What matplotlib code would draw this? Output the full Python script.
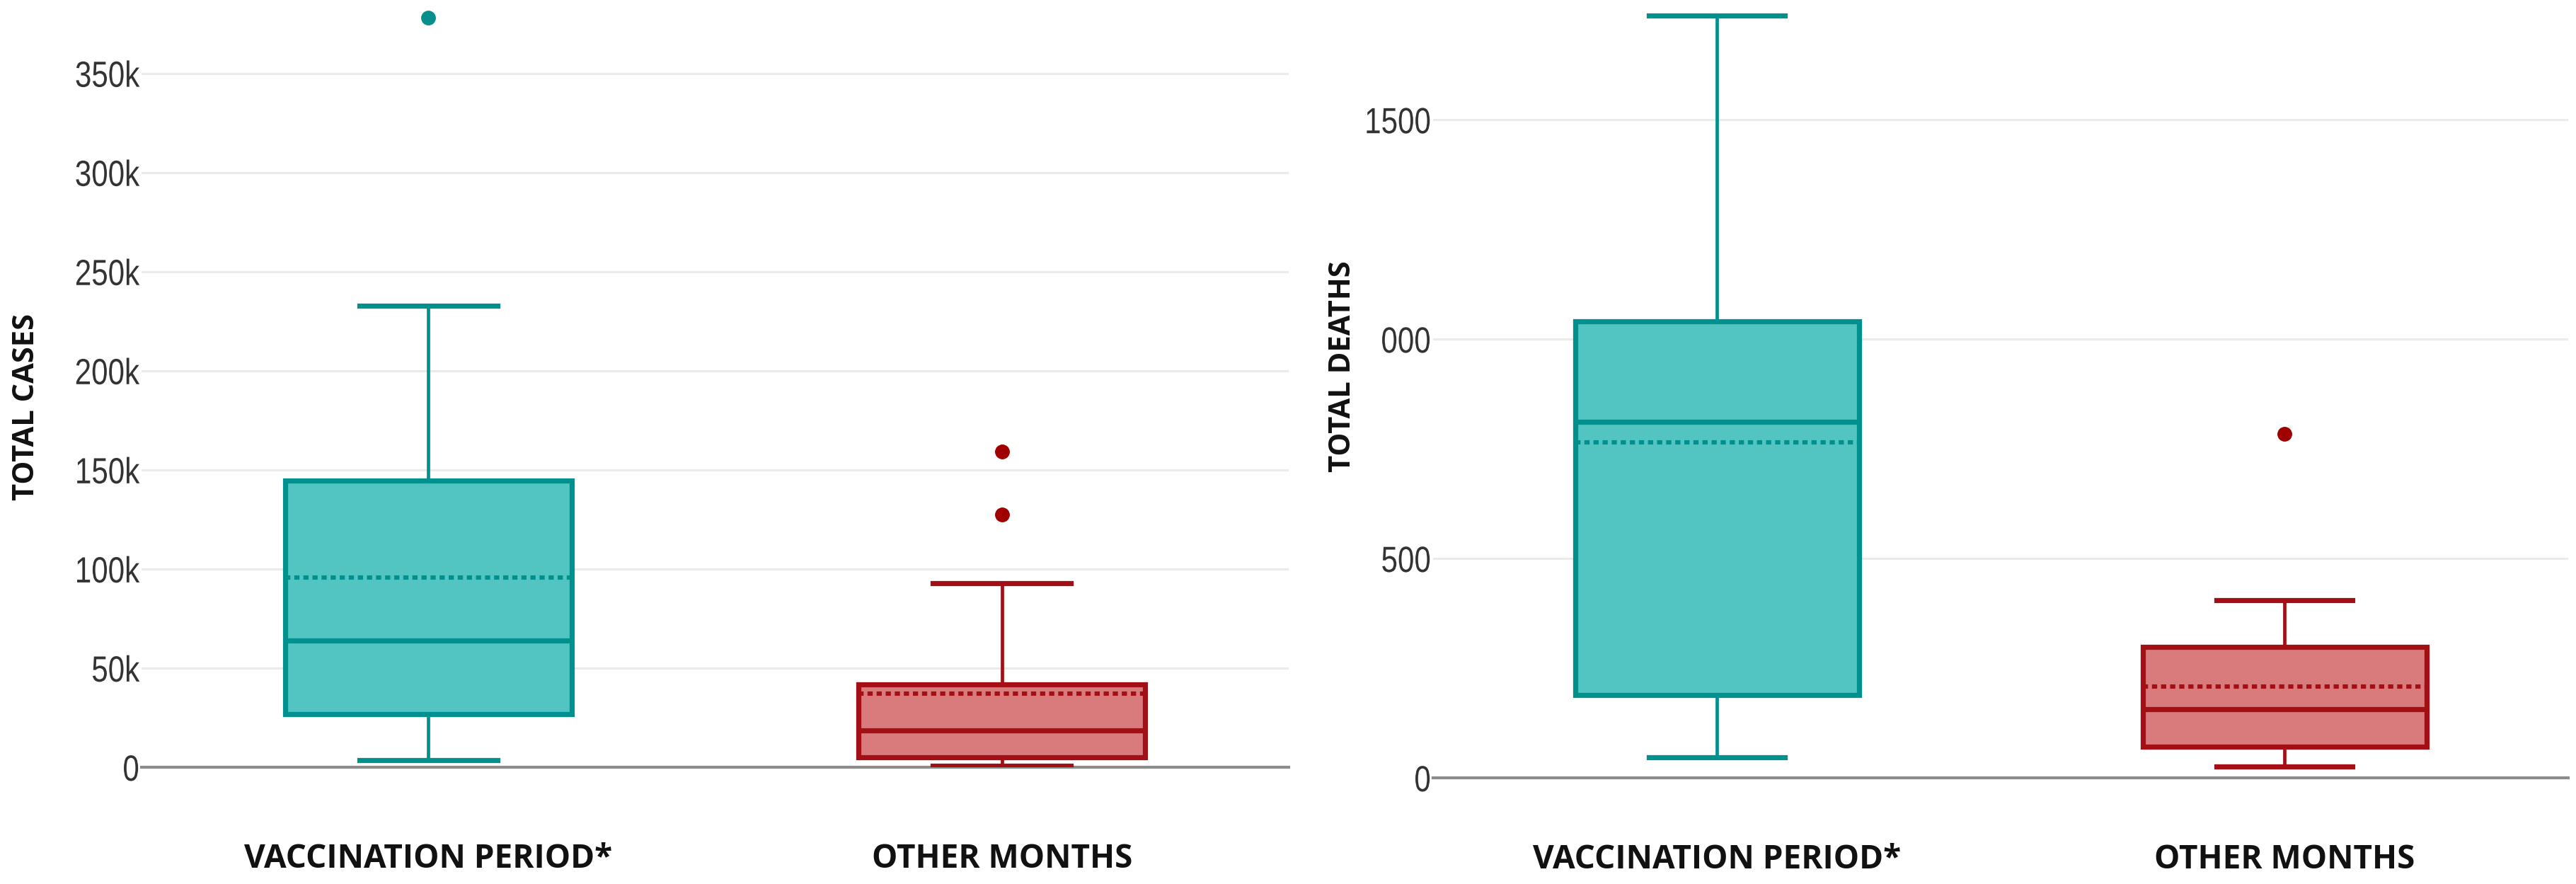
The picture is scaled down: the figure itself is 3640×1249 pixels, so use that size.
import matplotlib
matplotlib.use("Agg")
import matplotlib.pyplot as plt
from matplotlib.ticker import FixedLocator, FixedFormatter
from matplotlib.patheffects import AbstractPathEffect
from matplotlib.transforms import Affine2D

# ---- data ----
groups = ["VACCINATION PERIOD*", "OTHER MONTHS"]

# total cases
cases_whislo = [3700, 600]
cases_q1 = [26700, 5100]
cases_med = [63900, 18500]
cases_mean = [95600, 37100]
cases_q3 = [144600, 41900]
cases_whishi = [232900, 92800]
cases_fliers = [[377900], [159400, 127500]]
cases_ticks = [0, 50000, 100000, 150000, 200000, 250000, 300000, 350000]
cases_ticklabels = ["0", "50k", "100k", "150k", "200k", "250k", "300k", "350k"]

# total deaths
deaths_whislo = [47, 26]
deaths_q1 = [189, 71]
deaths_med = [811, 157]
deaths_mean = [765, 208]
deaths_q3 = [1040, 298]
deaths_whishi = [1737, 405]
deaths_fliers = [[], [784]]
deaths_ticks = [0, 500, 1000, 1500]
deaths_ticklabels = ["0", "500", "000", "1500"]

# ---- style ----
EDGE = ["#00918E", "#A30F14"]
FILL = ["#52C4C1", "#D97B7D"]
DOT = ["#088F8C", "#A00000"]
GRID = "#EBEBEB"
BASE = "#8C8C8C"
TICK_FONT = ["Liberation Sans", "DejaVu Sans"]
LABEL_FONT = ["Open Sans", "DejaVu Sans"]

W, H = 3640, 1249
fig = plt.figure(figsize=(W / 100, H / 100), dpi=100)


class Narrow(AbstractPathEffect):
    """squeeze glyphs horizontally, keeping the right edge fixed"""

    def __init__(self, sx):
        super().__init__()
        self.sx = sx

    def draw_path(self, renderer, gc, tpath, affine, rgbFace=None):
        x1 = tpath.get_extents().x1
        t = Affine2D().translate(-x1, 0).scale(self.sx, 1).translate(x1, 0) + affine
        renderer.draw_path(gc, tpath, t, rgbFace)


def px_axes(x0, x1, y_top, y_base):
    return fig.add_axes([x0 / W, 1 - y_base / H, (x1 - x0) / W, (y_base - y_top) / H])


def draw(ax, whislo, q1, med, mean, q3, whishi, fliers, ticks, ticklabels, ymax, label_pad):
    for i in range(len(groups)):
        st = dict(whislo=whislo[i], q1=q1[i], med=med[i], mean=mean[i],
                  q3=q3[i], whishi=whishi[i], fliers=fliers[i], label=groups[i])
        ax.bxp([st], positions=[i + 1], widths=0.5, capwidths=0.24,
               showmeans=True, meanline=True, showfliers=True, patch_artist=True,
               boxprops=dict(facecolor=FILL[i], edgecolor=EDGE[i], linewidth=5.2),
               medianprops=dict(color=EDGE[i], linewidth=5.2, solid_capstyle="butt"),
               meanprops=dict(color=EDGE[i], linewidth=4.4, linestyle=(0, (1.2, 0.9))),
               whiskerprops=dict(color=EDGE[i], linewidth=3.4),
               capprops=dict(color=EDGE[i], linewidth=5.2),
               flierprops=dict(marker="o", markersize=14, markerfacecolor=DOT[i],
                               markeredgecolor=DOT[i]),
               zorder=3)
    ax.set_xlim(0.5, 2.5)
    ax.set_ylim(0, ymax)
    ax.yaxis.set_major_locator(FixedLocator(ticks))
    ax.yaxis.set_major_formatter(FixedFormatter(ticklabels))
    ax.set_xticks([1, 2])
    ax.set_xticklabels(groups)
    for t in ax.get_xticklabels():
        t.set_fontfamily(LABEL_FONT)
        t.set_fontweight("bold")
        t.set_fontsize(33)
        t.set_color("#111111")
    for t in ax.get_yticklabels():
        t.set_fontfamily(TICK_FONT)
        t.set_fontsize(37)
        t.set_color("#333333")
        t.set_path_effects([Narrow(0.82)])
    ax.tick_params(axis="y", length=0, pad=2)
    ax.tick_params(axis="x", length=0, pad=label_pad)
    for s in ["top", "right", "left"]:
        ax.spines[s].set_visible(False)
    ax.spines["bottom"].set_color(BASE)
    ax.spines["bottom"].set_linewidth(3.0)
    for y in ticks[1:]:
        ax.axhline(y, color=GRID, linewidth=2.2, zorder=0)


ax1 = px_axes(200, 1821, 0, 1084)
draw(ax1, cases_whislo, cases_q1, cases_med, cases_mean, cases_q3, cases_whishi,
     cases_fliers, cases_ticks, cases_ticklabels, 387000, 76)
fig.text(38 / W, 1 - 575 / H, "TOTAL CASES", rotation=90, ha="center", va="center",
         fontsize=30, fontweight="bold", family=LABEL_FONT, color="#111111")

ax2 = px_axes(2025, 3629, 0, 1099)
draw(ax2, deaths_whislo, deaths_q1, deaths_med, deaths_mean, deaths_q3, deaths_whishi,
     deaths_fliers, deaths_ticks, deaths_ticklabels, 1773, 66)
fig.text(1897 / W, 1 - 518 / H, "TOTAL DEATHS", rotation=90, ha="center", va="center",
         fontsize=30, fontweight="bold", family=LABEL_FONT, color="#111111")

fig.savefig("out.png", dpi=100, facecolor="white")
